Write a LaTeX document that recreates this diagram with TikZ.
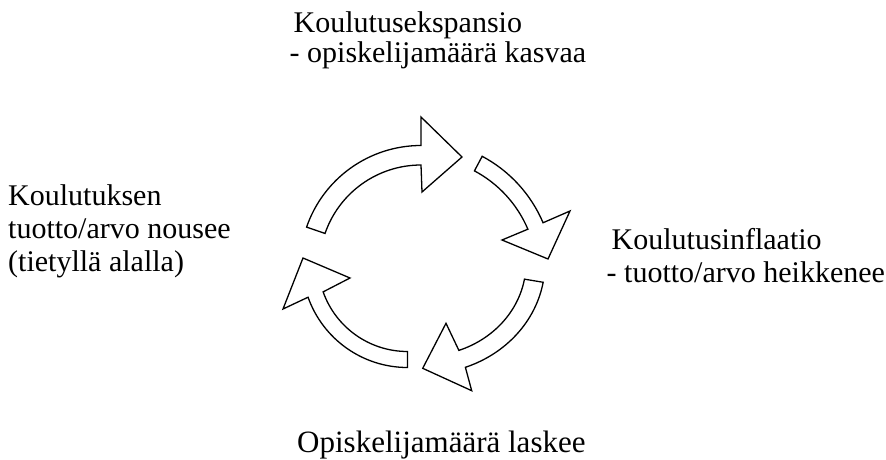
\documentclass[tikz,border=0pt]{standalone}
\usepackage{fontspec}
\setmainfont{Liberation Serif}
\begin{document}
\begin{tikzpicture}[x=1pt, y=1pt,
    cyclearrow/.style={draw=black, fill=white, line width=1.3pt, line join=miter},
    phase/.style={align=left, inner sep=0pt, font=\fontsize{30}{33}\selectfont}]
    \useasboundingbox (0,0) rectangle (886,459);

    % Top arrow
    \draw[cyclearrow, shift={(421,192.5)}] (161:121) arc[start angle=161, end angle=90, radius=121]
        -- (0,149.5) -- (41,109.5) -- (1,74.5) -- (90:101.5)
        arc[start angle=90, end angle=161, radius=101.5] -- cycle;

    % Right arrow
    \draw[cyclearrow, shift={(418.8,183.5)}] (62:135) arc[start angle=62, end angle=23, radius=135]
        -- (151.2,64.5) -- (129.2,16.5) -- (83.2,35.5) -- (23:118.5)
        arc[start angle=23, end angle=62, radius=118.5] -- cycle;

    % Bottom arrow (slightly flattened)
    \draw[cyclearrow, shift={(424,196)}] (-10:121 and 111)
        arc[start angle=-10, end angle=-70, x radius=121, y radius=111]
        -- (47.7,-127.7) -- (-1.3,-105.3) -- (22,-60.3) -- (-70:102 and 93)
        arc[start angle=-70, end angle=-10, x radius=102, y radius=93] -- cycle;

    % Left arrow
    \draw[cyclearrow, shift={(407.5,197)}] (270:105.5) arc[start angle=270, end angle=199.5, radius=105.5]
        -- (-124.5,-47) -- (-104.5,4) -- (-57.5,-16) -- (199.5:89.5)
        arc[start angle=199.5, end angle=270, radius=89.5] -- cycle;

    % Phases of the cycle (anchored at the baseline of the last line)
    \node[phase, anchor=base west, font=\fontsize{30}{30}\selectfont] (expansion) at (289.5,396)
        {\hspace*{4pt}Koulutusekspansio\\- opiskelijamäärä kasvaa};
    \node[phase, anchor=base west] (inflation) at (606.5,177)
        {\hspace*{5pt}Koulutusinflaatio\\- tuotto/arvo heikkenee};
    \node[phase, anchor=base west, font=\fontsize{31}{33}\selectfont] (decline) at (297,7)
        {Opiskelijamäärä laskee};
    \node[phase, anchor=base west] (returns) at (8,187.5)
        {Koulutuksen\\tuotto/arvo nousee\\(tietyllä alalla)};
\end{tikzpicture}
\end{document}
